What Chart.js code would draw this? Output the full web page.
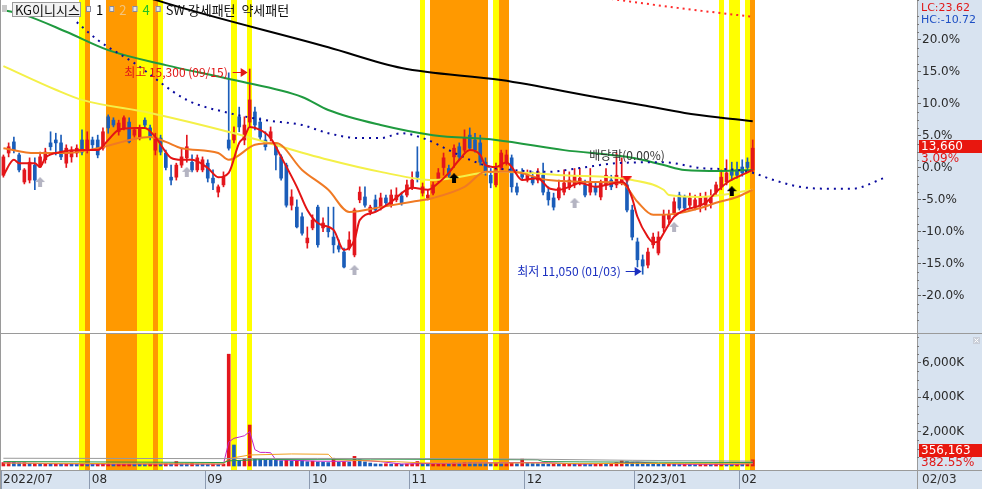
<!DOCTYPE html>
<html>
<head>
<meta charset="utf-8">
<script src="https://cdn.jsdelivr.net/npm/chart.js@4.4.1/dist/chart.umd.min.js"></script>
<style>
html, body { margin: 0; padding: 0; background: #fff; }
#wrap { position: relative; width: 982px; height: 489px; overflow: hidden; }
canvas { position: absolute; left: 0; }
#price { top: 0; }
#vol { top: 333px; }
</style>
</head>
<body>
<div id="wrap">
  <canvas id="price" width="982" height="333"></canvas>
  <canvas id="vol" width="982" height="156"></canvas>
</div>
<script>
// 기준가 (전일 종가, 0% 위치)
const BASE = 13250;
const stockName = "KG이니시스";
const hiDateLabel = "09/15";
const loDateLabel = "01/03";
const lastDateLabel = "02/03";

// 일봉 2022/07/07 ~ 2023/02/03
const opens = [
  13100,13560,13790,13520,12960,13000,13310,13270,13420,13770,
  13830,13770,13350,13480,13560,13830,13620,13830,13830,13660,
  14310,14240,14000,14080,14200,13930,13890,14240,14080,13620,
  13870,13560,13060,13060,13310,13460,13370,13210,13210,13350,
  13040,12750,12900,13830,13830,14310,13830,14200,14410,14200,
  13830,13870,13730,13480,13310,12480,12440,12240,11700,12010,
  12440,12010,12010,11820,11640,11510,11590,11450,12590,12650,
  12340,12590,12440,12630,12480,12590,12670,12690,12860,13170,
  12730,12630,12730,13000,13250,13250,13480,13690,13620,13930,
  13830,13770,13370,13100,12900,13250,13350,13460,12860,13170,
  13000,13060,13000,13100,12750,12630,12630,12750,12840,12900,
  12960,12900,12750,12860,12650,12900,13000,12900,12940,12900,
  12380,11720,11350,11240,11660,11490,12010,12190,12320,12690,
  12650,12480,12440,12480,12480,12530,12750,12860,12960,13210,
  13210,13270,13370,13210
];
const highs = [
  13520,13770,13890,13560,13250,13460,13460,13580,13660,14000,
  13970,13930,13730,13690,13730,14040,14000,13890,13930,14080,
  14350,14290,14240,14330,14290,14080,14140,14290,14140,13970,
  13930,13620,13310,13350,13660,13930,13520,13520,13480,13420,
  13210,12900,13170,15220,14100,14510,14310,15300,14510,14290,
  14000,14100,13770,13520,13350,12800,12590,12320,12030,12280,
  12480,12220,12440,12440,11760,11590,11930,12420,12860,12860,
  12480,12690,12730,12690,12800,12840,12750,13000,13170,13690,
  12940,12800,12960,13250,13560,13310,13730,13770,14040,14080,
  13970,13930,13460,13250,13350,13620,13620,13520,12940,13250,
  13210,13170,13250,13350,12860,12730,13000,13210,13170,13250,
  13250,13000,13250,12940,13000,13250,13100,13560,13460,13040,
  12480,11800,11450,11590,11900,11930,12380,12380,12630,12750,
  12690,12730,12690,12730,12750,12800,12960,13210,13420,13370,
  13370,13420,13460,13830
];
const lows = [
  13060,13480,13560,13170,12920,12940,12800,13250,13350,13620,
  13520,13420,13250,13370,13480,13520,13560,13620,13460,13620,
  13970,14100,13930,14040,13770,13890,13830,14100,13830,13520,
  13520,13210,12900,13000,13250,13370,13170,13170,13170,12960,
  12800,12650,12860,13620,13770,14000,13730,14100,14040,13830,
  13620,13810,13210,13000,12440,12380,12010,11860,11590,11970,
  11610,11930,11820,11490,11510,11180,11550,11410,12530,12440,
  12280,12340,12380,12480,12440,12550,12480,12650,12800,12960,
  12670,12590,12690,12960,13100,13040,13250,13420,13580,13620,
  13580,13310,13100,12840,12860,13210,13310,12750,12690,13000,
  12960,12900,12940,12690,12480,12380,12590,12690,12800,12840,
  12900,12650,12690,12690,12590,12800,12800,12840,12900,12340,
  11760,11200,11050,11180,11590,11450,11930,12110,12280,12380,
  12340,12420,12380,12340,12380,12420,12690,12800,12900,13000,
  13040,13080,13200,13170
];
const closes = [
  13480,13690,13620,13210,13210,13370,13000,13480,13580,13690,
  13770,13480,13660,13620,13660,13580,13830,13730,13520,14000,
  14080,14140,14180,14290,13790,14040,14080,14140,13890,13870,
  13580,13250,13000,13310,13480,13690,13210,13460,13420,13040,
  12940,12860,13060,13660,13970,14100,14140,14660,14140,13890,
  13690,14000,13520,13040,12480,12650,12030,11900,11800,12170,
  11660,12110,11930,11660,11570,11200,11760,12380,12750,12480,
  12440,12380,12630,12530,12690,12690,12530,12900,13000,13060,
  12860,12690,12900,13150,13460,13100,13660,13480,13870,13660,
  13620,13370,13150,12940,13250,13560,13520,12860,12750,13060,
  13100,12940,13170,12750,12590,12440,12840,12940,13000,13100,
  13040,12690,12960,12750,12940,13100,12860,13100,13040,12380,
  11820,11350,11220,11510,11820,11820,12280,12280,12550,12420,
  12420,12630,12590,12630,12650,12630,12900,13060,13150,13100,
  13100,13150,13250,13660
];
// 거래량 (천주)
const volumes = [
  200,250,230,180,190,150,160,120,130,110,
  120,100,110,100,90,120,100,90,110,120,
  140,110,120,130,140,110,100,90,110,120,
  100,130,120,260,130,130,170,120,110,100,
  110,100,110,6500,1220,330,420,2380,420,380,
  360,330,330,310,330,300,320,310,250,280,
  230,220,200,450,220,240,230,560,350,240,
  170,120,110,130,110,120,100,110,120,260,
  150,120,130,140,150,130,180,170,200,190,
  170,160,150,140,150,130,140,160,130,400,
  150,140,130,120,110,120,100,110,120,100,
  110,100,90,100,110,100,120,200,300,250,
  220,200,150,130,120,110,100,110,100,90,
  100,90,80,90,100,90,110,120,100,90,
  100,90,93.103,356.163
];

// 이동평균선 [일 index, 가격]
const ma5 = [[0,13100],[2,13420],[3,13350],[6,13350],[7,13270],[8,13460],[11,13580],[15,13620],[18,13620],[20,13830],[22,14040],[25,14080],[27,14080],[29,13890],[32,13460],[34,13420],[36,13420],[39,13250],[41,13060],[43,13150],[45,13770],[46,13890],[47,14100],[49,14040],[51,13870],[53,13480],[56,12860],[58,12380],[60,12110],[63,11970],[65,11550],[67,11760],[68,12170],[71,12340],[74,12550],[78,12840],[81,12800],[83,12940],[85,13150],[87,13420],[89,13620],[91,13520],[92,13310],[94,13270],[96,13370],[97,13270],[99,13000],[102,13040],[104,12840],[106,12800],[108,12860],[110,12940],[113,12860],[115,12900],[118,12960],[119,12880],[120,12620],[121,12240],[123,11820],[124,11710],[125,11730],[126,11900],[128,12240],[130,12380],[132,12440],[134,12530],[136,12750],[138,12940],[140,13060],[143,13210]];
const ma20 = [[0,13660],[6,13560],[12,13560],[18,13660],[25,13850],[28,13890],[31,13790],[34,13660],[41,13560],[43,13420],[48,13730],[52,13770],[57,13210],[62,12800],[66,12340],[72,12440],[78,12550],[82,12630],[88,12860],[92,13170],[97,13170],[104,13000],[113,12960],[118,12940],[121,12550],[124,12280],[128,12300],[133,12420],[136,12530],[140,12650],[143,12800]];
const ma60 = [[0,15360],[10,14870],[15,14660],[28,14390],[44,13970],[62,13420],[72,13170],[82,13000],[94,13170],[107,13100],[120,13000],[126,12800],[127,12690],[133,12650],[137,12690],[143,12800]];
const ma120 = [[0,16520],[4,16420],[12,16070],[20,15690],[31,15380],[44,15070],[57,14720],[62,14450],[72,14140],[82,13930],[94,13830],[107,13620],[120,13460],[126,13310],[130,13210],[137,13190],[143,13210]];
const ma240 = [[18,17150],[29,16730],[62,15750],[76,15320],[95,15070],[114,14700],[122,14550],[130,14390],[137,14290],[143,14220]];
const leadBlue = [[14,16270],[18,15900],[25,15420],[35,14660],[43,14390],[50,14240],[57,14140],[62,13970],[68,13870],[72,13870],[76,13970],[81,13830],[85,13620],[89,13420],[93,13270],[97,13210],[104,13170],[110,13250],[117,13350],[126,13370],[133,13250],[140,13210],[143,13150],[147,13000],[152,12860],[158,12820],[162,12820],[168,13040]];
const leadRed = [[116,16750],[129,16560],[143,16380]];

// 거래량 이동평균 (천주)
const vma5 = [[0,190],[10,130],[20,115],[30,115],[42,110],[43,1390],[44,1610],[45,1680],[46,1760],[47,2000],[48,950],[49,790],[50,790],[51,770],[52,360],[56,320],[60,280],[65,270],[67,320],[68,340],[72,250],[76,115],[80,140],[86,150],[90,180],[99,200],[104,190],[110,110],[118,170],[121,230],[125,150],[130,100],[140,95],[143,150]];
const vma20 = [[0,170],[20,140],[42,120],[43,430],[47,640],[55,700],[62,680],[63,370],[67,320],[70,300],[75,250],[80,180],[90,170],[100,180],[110,140],[120,150],[130,140],[143,130]];
const vma60 = [[0,260],[30,220],[42,200],[43,300],[50,380],[70,400],[90,380],[102,360],[103,260],[110,240],[125,220],[143,200]];
const vma120 = [[0,450],[40,430],[60,440],[80,430],[100,400],[120,330],[143,280]];

// SW 강세/약세 패턴 구간 [시작, 끝]
const bandsYellow = [[15,15],[26,28],[30,30],[44,44],[47,47],[80,80],[94,94],[137,137],[139,140],[142,142]];
const bandsOrange = [[16,16],[20,25],[29,29],[82,92],[95,96],[143,143]];

// 신호 [일 index, 가격]
const signalGray = [[7,12960],[35,13170],[67,11140],[109,12530],[128,12030]];
const signalBlack = [[86,13040],[139,12770]];
const signalRed = [[119,13020]];
const dividendMark = [119, 2.0];

const pctTicks = [-20,-15,-10,-5,0,5,10,15,20];
const volTicks = [2000,4000,6000];
const monthTicks = [-0.45,16.5,38.5,58.5,77.5,99.5,120.5,140.5];
const monthLabels = ["2022/07","08","09","10","11","12","2023/01","02"];

const X_MIN = -0.458, X_MAX = 174.35;
const UP = "#e3161d", DOWN = "#1b5db9";
const AXIS_BG = "#d8e3f0";
const NUM_FONT = '12px "DejaVu Sans", sans-serif';
const SMALL_FONT = '11px "DejaVu Sans", sans-serif';
const KR_FONT = '12px "Noto Sans CJK KR", sans-serif';

const toPct = p => (p / BASE - 1) * 100;
const toPts = arr => arr.map(([i, p]) => ({ x: i, y: toPct(p) }));
const fmt = n => Math.round(n).toLocaleString("en-US");
const idx = closes.map((_, i) => i);
const candleColors = idx.map(i => closes[i] >= opens[i] ? UP : DOWN);
const volColors = idx.map(i => (i === 0 || volumes[i] > volumes[i - 1]) ? UP : DOWN);

function arrowUp(color) {
    const c = document.createElement("canvas");
    c.width = 10; c.height = 10;
    const g = c.getContext("2d");
    g.fillStyle = color;
    g.beginPath();
    g.moveTo(5, 0); g.lineTo(10, 5); g.lineTo(7, 5); g.lineTo(7, 10);
    g.lineTo(3, 10); g.lineTo(3, 5); g.lineTo(0, 5);
    g.closePath(); g.fill();
    return c;
}
function arrowDown(color) {
    const c = document.createElement("canvas");
    c.width = 11; c.height = 7;
    const g = c.getContext("2d");
    g.fillStyle = color;
    g.beginPath(); g.moveTo(0, 0); g.lineTo(11, 0); g.lineTo(5.5, 7); g.closePath(); g.fill();
    return c;
}

function maLine(pts, color, width, dash, order) {
    return {
        type: "line", data: toPts(pts), borderColor: color, borderWidth: width,
        borderDash: dash || [], pointRadius: 0, cubicInterpolationMode: "monotone",
        fill: false, order: order
    };
}
function volLine(pts, color) {
    return {
        type: "line", data: pts.map(([i, v]) => ({ x: i, y: v })), borderColor: color,
        borderWidth: 1, pointRadius: 0, fill: false, order: 1
    };
}
function signalSet(pts, img) {
    return { type: "line", showLine: false, data: toPts(pts), pointStyle: img, pointRadius: 5, order: 0 };
}

function drawArrow(ctx, x0, x1, y, color) {
    ctx.strokeStyle = color; ctx.fillStyle = color; ctx.lineWidth = 1;
    ctx.beginPath(); ctx.moveTo(x0, y + 0.5); ctx.lineTo(x1 - 6, y + 0.5); ctx.stroke();
    ctx.beginPath(); ctx.moveTo(x1 - 7, y - 4); ctx.lineTo(x1, y + 0.5); ctx.lineTo(x1 - 7, y + 5); ctx.closePath(); ctx.fill();
}

// 배경, 축 영역, 테두리
const framePlugin = {
    id: "frame",
    beforeDraw(chart) {
        const { ctx, chartArea: a, width, height } = chart;
        ctx.save();
        ctx.fillStyle = "#ffffff";
        ctx.fillRect(0, 0, width, height);
        ctx.fillStyle = AXIS_BG;
        ctx.fillRect(a.right, 0, width - a.right, height);
        if (chart.canvas.id === "vol") ctx.fillRect(0, a.bottom, width, height - a.bottom);
        ctx.restore();
    },
    afterDraw(chart) {
        const { ctx, chartArea: a, width, height } = chart;
        ctx.save();
        ctx.strokeStyle = "#9a9a9a";
        ctx.lineWidth = 1;
        ctx.beginPath();
        ctx.moveTo(0.5, 0); ctx.lineTo(0.5, height);
        ctx.moveTo(a.right + 0.5, 0); ctx.lineTo(a.right + 0.5, height);
        if (chart.canvas.id === "vol") {
            ctx.moveTo(0, 0.5); ctx.lineTo(width, 0.5);
            ctx.moveTo(0, a.bottom + 0.5); ctx.lineTo(width, a.bottom + 0.5);
        }
        ctx.stroke();
        // 보조 눈금
        const y = chart.scales.y;
        const step = chart.canvas.id === "vol" ? 500 : 1.25;
        const major = chart.canvas.id === "vol" ? 2000 : 5;
        ctx.strokeStyle = "#777";
        ctx.beginPath();
        for (let v = Math.ceil(y.min / step) * step; v <= y.max; v += step) {
            if (Math.abs(v / major - Math.round(v / major)) < 1e-6) continue;
            const py = Math.round(y.getPixelForValue(v)) + 0.5;
            ctx.moveTo(y.left, py); ctx.lineTo(y.left + 2, py);
        }
        ctx.stroke();
        ctx.restore();
    }
};

const bandsPlugin = {
    id: "bands",
    beforeDatasetsDraw(chart) {
        const { ctx, chartArea: a, scales: { x } } = chart;
        ctx.save();
        ctx.beginPath(); ctx.rect(a.left, a.top, a.width, a.height); ctx.clip();
        const draw = (list, color) => {
            ctx.fillStyle = color;
            list.forEach(([s, e]) => {
                const x0 = Math.round(x.getPixelForValue(s - 0.5));
                const x1 = Math.round(x.getPixelForValue(e + 0.5));
                ctx.fillRect(x0, a.top, x1 - x0, a.height);
            });
        };
        draw(bandsYellow, "#ffff00");
        draw(bandsOrange, "#ff9900");
        ctx.restore();
    }
};

const pricePlugin = {
    id: "priceLabels",
    afterDatasetsDraw(chart) {
        const { ctx, scales: { x, y } } = chart;
        const hiVal = Math.max(...highs), loVal = Math.min(...lows);
        const hiI = highs.indexOf(hiVal), loI = lows.indexOf(loVal);
        ctx.save();
        ctx.font = KR_FONT;
        ctx.textBaseline = "middle";
        ctx.textAlign = "right";
        const hx = x.getPixelForValue(hiI), hy = Math.round(y.getPixelForValue(toPct(hiVal))) + 3;
        ctx.fillStyle = "#e01818";
        ctx.fillText("최고 " + fmt(hiVal) + " (" + hiDateLabel + ")", hx - 22, hy);
        drawArrow(ctx, hx - 17, hx - 2, hy, "#e01818");
        const lx = x.getPixelForValue(loI), ly = Math.round(y.getPixelForValue(toPct(loVal))) - 3;
        ctx.fillStyle = "#1a2fc0";
        ctx.fillText("최저 " + fmt(loVal) + " (" + loDateLabel + ")", lx - 22, ly);
        drawArrow(ctx, lx - 17, lx - 1, ly, "#1a2fc0");
        ctx.textAlign = "center";
        ctx.fillStyle = "#333";
        ctx.fillText("배당락(0.00%)", x.getPixelForValue(dividendMark[0]), y.getPixelForValue(dividendMark[1]));
        ctx.restore();
    },
    afterDraw(chart) {
        const { ctx, scales: { y } } = chart;
        const last = closes[closes.length - 1];
        ctx.save();
        ctx.textBaseline = "middle";
        ctx.textAlign = "left";
        ctx.font = SMALL_FONT;
        const lc = ((last / Math.min(...lows) - 1) * 100).toFixed(2);
        const hc = ((last / Math.max(...highs) - 1) * 100).toFixed(2);
        ctx.fillStyle = "#e01818"; ctx.fillText("LC:" + lc, y.left + 4, 8);
        ctx.fillStyle = "#1d4fc4"; ctx.fillText("HC:" + hc, y.left + 4, 20);
        ctx.font = NUM_FONT;
        const py = Math.round(y.getPixelForValue(toPct(last)));
        ctx.fillStyle = "#e8170f"; ctx.fillRect(y.left + 2, py - 8, 63, 13);
        ctx.fillStyle = "#ffffff"; ctx.fillText(fmt(last), y.left + 4, py - 1.5);
        ctx.fillStyle = "#e01818"; ctx.fillText(((last / BASE - 1) * 100).toFixed(2) + "%", y.left + 4, py + 11);

        // 범례
        ctx.fillStyle = "#c8c8c8"; ctx.fillRect(2, 5, 5, 7);
        ctx.fillStyle = "#f2f2f2"; ctx.fillRect(12, 2, 69, 15);
        ctx.strokeStyle = "#9a9a9a"; ctx.strokeRect(12.5, 2.5, 68, 14);
        ctx.font = '13px "Noto Sans CJK KR", sans-serif';
        ctx.fillStyle = "#111"; ctx.fillText(stockName, 15, 10);
        const items = [["1", "#000000"], ["2", "#f2c47c"], ["4", "#22c022"], ["SW 강세패턴  약세패턴", "#111111"]];
        let cx = 86;
        items.forEach(([label, color]) => {
            ctx.fillStyle = "#e4e4ec"; ctx.fillRect(cx, 6, 5, 6);
            ctx.strokeStyle = "#8a8a9a"; ctx.strokeRect(cx + 0.5, 6.5, 4, 5);
            ctx.fillStyle = color; ctx.fillText(label, cx + 10, 10);
            cx += 10 + ctx.measureText(label).width + 6;
        });
        ctx.restore();
    }
};

const volPlugin = {
    id: "volLabels",
    afterDraw(chart) {
        const { ctx, chartArea: a, scales: { y } } = chart;
        const n = volumes.length;
        const last = volumes[n - 1], prev = volumes[n - 2];
        ctx.save();
        ctx.font = NUM_FONT;
        ctx.textBaseline = "middle";
        ctx.textAlign = "left";
        const py = Math.round(y.getPixelForValue(last));
        ctx.fillStyle = "#e8170f"; ctx.fillRect(y.left + 2, py - 16, 63, 13);
        ctx.fillStyle = "#ffffff"; ctx.fillText(fmt(last * 1000), y.left + 4, py - 9.5);
        ctx.fillStyle = "#e01818"; ctx.fillText((last / prev * 100).toFixed(2) + "%", y.left + 4, py + 3);
        ctx.fillStyle = "#333"; ctx.fillText(lastDateLabel, y.left + 5, a.bottom + 10);
        // 닫기 버튼
        ctx.fillStyle = "#c9ced8"; ctx.fillRect(973, 4, 7, 7);
        ctx.strokeStyle = "#ffffff"; ctx.beginPath();
        ctx.moveTo(974.5, 5.5); ctx.lineTo(978.5, 9.5); ctx.moveTo(978.5, 5.5); ctx.lineTo(974.5, 9.5); ctx.stroke();
        ctx.restore();
    }
};

Chart.defaults.font.family = '"DejaVu Sans", sans-serif';
Chart.defaults.font.size = 12;

const yAxisCommon = {
    position: "right",
    grid: { drawOnChartArea: false, drawTicks: true, tickLength: 4, color: "#666" },
    border: { display: true, color: "#9a9a9a" }
};

new Chart(document.getElementById("price"), {
    type: "bar",
    data: {
        datasets: [
            {
                type: "bar", data: idx.map(i => ({ x: i, y: [toPct(lows[i]), toPct(highs[i])] })),
                backgroundColor: candleColors, barThickness: 1, grouped: false, order: 6
            },
            {
                type: "bar", data: idx.map(i => ({ x: i, y: [toPct(opens[i]), toPct(closes[i])] })),
                backgroundColor: candleColors, barThickness: 3, minBarLength: 1, grouped: false, order: 5
            },
            maLine(ma240, "#000000", 2, null, 4),
            maLine(ma120, "#1f9a3f", 2, null, 4),
            maLine(ma60, "#f4f048", 2, null, 4),
            maLine(ma20, "#f07a24", 2, null, 3),
            maLine(leadBlue, "#0a0a9e", 2, [2, 5], 3),
            maLine(leadRed, "#ff2a2a", 2, [2, 4], 3),
            maLine(ma5, "#e41414", 2, null, 2),
            signalSet(signalGray, arrowUp("#b4b4c2")),
            signalSet(signalBlack, arrowUp("#000000")),
            signalSet(signalRed, arrowDown("#ee1111"))
        ]
    },
    options: {
        responsive: false,
        animation: false,
        events: [],
        layout: { autoPadding: false, padding: { left: 1, right: 0, top: 0, bottom: 2 } },
        plugins: { legend: { display: false }, tooltip: { enabled: false } },
        scales: {
            x: { type: "linear", min: X_MIN, max: X_MAX, offset: false, display: false, grid: { offset: false } },
            y: {
                ...yAxisCommon,
                min: -25.47, max: 26.25,
                afterBuildTicks: s => { s.ticks = pctTicks.map(v => ({ value: v })); },
                afterFit: s => { s.width = 65; s.paddingTop = 0; s.paddingBottom = 0; },
                ticks: { padding: 1, color: "#2a2a2a", callback: v => v.toFixed(1) + "%" }
            }
        }
    },
    plugins: [framePlugin, bandsPlugin, pricePlugin]
});

new Chart(document.getElementById("vol"), {
    type: "bar",
    data: {
        datasets: [
            {
                type: "bar", data: idx.map(i => ({ x: i, y: volumes[i] })),
                backgroundColor: volColors, barThickness: 3, order: 5
            },
            volLine(vma120, "#9a9a9a"),
            volLine(vma60, "#2a9a4a"),
            volLine(vma20, "#f0a020"),
            volLine(vma5, "#c424c4")
        ]
    },
    options: {
        responsive: false,
        animation: false,
        events: [],
        layout: { autoPadding: false, padding: { left: 1, right: 0, top: 1, bottom: 0 } },
        plugins: { legend: { display: false }, tooltip: { enabled: false } },
        scales: {
            x: {
                type: "linear", min: X_MIN, max: X_MAX, offset: false, position: "bottom",
                afterBuildTicks: s => { s.ticks = monthTicks.map(v => ({ value: v })); },
                afterFit: s => { s.height = 19; s.paddingLeft = 0; s.paddingRight = 0; },
                grid: { drawOnChartArea: false, drawTicks: true, tickLength: 19, color: "#8c9ab0", offset: false },
                border: { display: true, color: "#9a9a9a" },
                ticks: {
                    autoSkip: false, maxRotation: 0, minRotation: 0, align: "start",
                    labelOffset: 2, padding: -16, color: "#2a2a2a",
                    callback: (v, i) => monthLabels[i]
                }
            },
            y: {
                ...yAxisCommon,
                min: -233, max: 7674,
                afterBuildTicks: s => { s.ticks = volTicks.map(v => ({ value: v })); },
                afterFit: s => { s.width = 65; s.paddingTop = 0; s.paddingBottom = 0; },
                ticks: { padding: 1, color: "#2a2a2a", callback: v => v.toLocaleString("en-US") + "K" }
            }
        }
    },
    plugins: [framePlugin, bandsPlugin, volPlugin]
});
</script>
</body>
</html>
